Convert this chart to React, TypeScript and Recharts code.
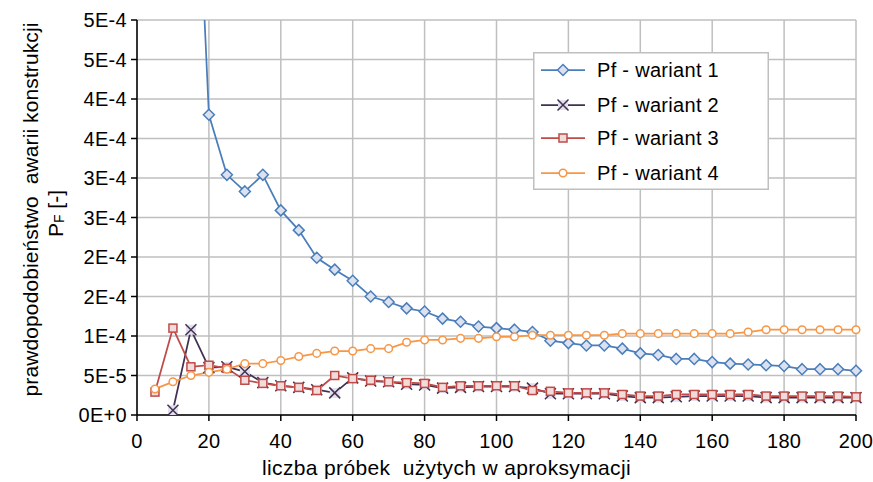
import React from 'react';
import { LineChart, Line, XAxis, YAxis, CartesianGrid } from 'recharts';

const xValues = [5, 10, 15, 20, 25, 30, 35, 40, 45, 50, 55, 60, 65, 70, 75, 80, 85, 90, 95, 100,
  105, 110, 115, 120, 125, 130, 135, 140, 145, 150, 155, 160, 165, 170, 175, 180, 185, 190, 195, 200];

const wariant1 = [null, null, 8.8e-4, 3.8e-4, 3.04e-4, 2.83e-4, 3.04e-4, 2.59e-4, 2.34e-4, 1.99e-4,
  1.84e-4, 1.70e-4, 1.50e-4, 1.43e-4, 1.35e-4, 1.31e-4, 1.22e-4, 1.18e-4, 1.12e-4, 1.10e-4,
  1.08e-4, 1.05e-4, 0.94e-4, 0.91e-4, 0.88e-4, 0.88e-4, 0.84e-4, 0.78e-4, 0.76e-4, 0.71e-4,
  0.71e-4, 0.67e-4, 0.65e-4, 0.64e-4, 0.63e-4, 0.62e-4, 0.58e-4, 0.58e-4, 0.58e-4, 0.56e-4];

const wariant2 = [null, 0.06e-4, 1.08e-4, 0.60e-4, 0.61e-4, 0.55e-4, 0.41e-4, 0.37e-4, 0.35e-4, 0.32e-4,
  0.28e-4, 0.47e-4, 0.43e-4, 0.42e-4, 0.39e-4, 0.38e-4, 0.34e-4, 0.35e-4, 0.36e-4, 0.36e-4,
  0.36e-4, 0.34e-4, 0.27e-4, 0.27e-4, 0.27e-4, 0.27e-4, 0.24e-4, 0.22e-4, 0.22e-4, 0.23e-4,
  0.24e-4, 0.24e-4, 0.24e-4, 0.24e-4, 0.22e-4, 0.22e-4, 0.22e-4, 0.22e-4, 0.22e-4, 0.22e-4];

const wariant3 = [0.29e-4, 1.10e-4, 0.61e-4, 0.63e-4, 0.59e-4, 0.44e-4, 0.40e-4, 0.37e-4, 0.35e-4, 0.31e-4,
  0.50e-4, 0.46e-4, 0.44e-4, 0.42e-4, 0.41e-4, 0.40e-4, 0.35e-4, 0.37e-4, 0.37e-4, 0.37e-4,
  0.37e-4, 0.31e-4, 0.30e-4, 0.28e-4, 0.28e-4, 0.28e-4, 0.26e-4, 0.24e-4, 0.24e-4, 0.26e-4,
  0.26e-4, 0.26e-4, 0.26e-4, 0.26e-4, 0.24e-4, 0.24e-4, 0.24e-4, 0.24e-4, 0.24e-4, 0.23e-4];

const wariant4 = [0.33e-4, 0.42e-4, 0.50e-4, 0.54e-4, 0.58e-4, 0.65e-4, 0.65e-4, 0.69e-4, 0.74e-4, 0.78e-4,
  0.81e-4, 0.81e-4, 0.84e-4, 0.84e-4, 0.92e-4, 0.95e-4, 0.95e-4, 0.97e-4, 0.97e-4, 0.99e-4,
  0.99e-4, 1.01e-4, 1.01e-4, 1.01e-4, 1.01e-4, 1.01e-4, 1.03e-4, 1.03e-4, 1.03e-4, 1.03e-4,
  1.03e-4, 1.03e-4, 1.03e-4, 1.05e-4, 1.08e-4, 1.08e-4, 1.08e-4, 1.08e-4, 1.08e-4, 1.08e-4];

const xTicks = [0, 20, 40, 60, 80, 100, 120, 140, 160, 180, 200];
const yTicks = [0, 0.5e-4, 1e-4, 1.5e-4, 2e-4, 2.5e-4, 3e-4, 3.5e-4, 4e-4, 4.5e-4, 5e-4];
const yTickLabels = ['0E+0', '5E-5', '1E-4', '2E-4', '2E-4', '3E-4', '3E-4', '4E-4', '4E-4', '5E-4', '5E-4'];

const seriesNames = ['Pf - wariant 1', 'Pf - wariant 2', 'Pf - wariant 3', 'Pf - wariant 4'];
const xTitle = 'liczba próbek  użytych w aproksymacji';
const yTitle1 = 'prawdopodobieństwo  awarii konstrukcji';

const data = xValues.map((x, i) => ({
  x,
  s1: wariant1[i],
  s2: wariant2[i],
  s3: wariant3[i],
  s4: wariant4[i],
}));

const FONT = '"Liberation Sans", Arial, sans-serif';
const C1 = '#4A7EBB';
const C2 = '#403152';
const C3 = '#BE4B48';
const C4 = '#F79646';

const bad = (v: any) => v == null || Number.isNaN(v);

const DiamondMark = ({ cx, cy }: any) => (
  <path d={`M${cx},${cy - 5.5}L${cx + 5.5},${cy}L${cx},${cy + 5.5}L${cx - 5.5},${cy}Z`}
    fill="#DCE1F0" stroke={C1} strokeWidth={1.5} />
);
const CrossMark = ({ cx, cy }: any) => (
  <g>
    <rect x={cx - 5} y={cy - 5} width={10} height={10} fill="#E4DFEC" />
    <path d={`M${cx - 5.5},${cy - 5.5}L${cx + 5.5},${cy + 5.5}M${cx - 5.5},${cy + 5.5}L${cx + 5.5},${cy - 5.5}`}
      stroke={C2} strokeWidth={1.5} fill="none" />
  </g>
);
const SquareMark = ({ cx, cy }: any) => (
  <rect x={cx - 4} y={cy - 4} width={8} height={8} fill="#F2DCDB" stroke={C3} strokeWidth={1.5} />
);
const CircleMark = ({ cx, cy }: any) => (
  <circle cx={cx} cy={cy} r={3.8} fill="#FFFFFF" stroke={C4} strokeWidth={1.5} />
);

const makeDot = (Mark: any, prefix: string) => (p: any) => {
  const k = `${prefix}-${p.index}`;
  if (bad(p.cx) || bad(p.cy) || bad(p.value)) return <g key={k} />;
  return <g key={k}><Mark cx={p.cx} cy={p.cy} /></g>;
};

const marks = [DiamondMark, CrossMark, SquareMark, CircleMark];
const colors = [C1, C2, C3, C4];

const YTitle = (props: any) => {
  const vb = props.viewBox || { x: 0, y: 12, width: 129, height: 395 };
  const cy = vb.y + vb.height / 2 - 8;
  const x1 = 22;
  const x2 = 47;
  return (
    <g>
      <text x={x1} y={cy} transform={`rotate(-90, ${x1}, ${cy})`} textAnchor="middle"
        dominantBaseline="central" fontSize={21} letterSpacing={0.1} fontFamily={FONT} fill="#000"
        style={{ whiteSpace: 'pre' }}>{yTitle1}</text>
      <text x={x2} y={cy + 4} transform={`rotate(-90, ${x2}, ${cy + 4})`} textAnchor="middle"
        dominantBaseline="central" fontSize={21} fontFamily={FONT} fill="#000">
        P<tspan fontSize={14} dy={4}>F</tspan><tspan dy={-4}> [-]</tspan>
      </text>
    </g>
  );
};

const XTitle = (props: any) => {
  const vb = props.viewBox || { x: 129, y: 407, width: 719, height: 67 };
  const cx = vb.x + vb.width / 2 - 50;
  return (
    <text x={cx} y={vb.y + 52} textAnchor="middle" dominantBaseline="central"
      fontSize={21} letterSpacing={0.35} fontFamily={FONT} fill="#000"
      style={{ whiteSpace: 'pre' }}>{xTitle}</text>
  );
};

const LegendBox = () => {
  const w = 236;
  const h = 138;
  const rows = [18, 53, 86, 121];
  return (
    <svg width={w} height={h} style={{ position: 'absolute', left: 533, top: 52 }}>
      <rect x={0.75} y={0.75} width={w - 1.5} height={h - 1.5} fill="#fff" stroke="#BFBFBF" strokeWidth={1.5} />
      {seriesNames.map((name, i) => {
        const Mark = marks[i];
        const y = rows[i];
        return (
          <g key={name}>
            <line x1={8} x2={52} y1={y} y2={y} stroke={colors[i]} strokeWidth={1.75} />
            <Mark cx={30} cy={y} />
            <text x={64} y={y} dominantBaseline="central" fontSize={20} letterSpacing={0.3}
              fontFamily={FONT} fill="#000">{name}</text>
          </g>
        );
      })}
    </svg>
  );
};

export default function App() {
  const keys = ['s1', 's2', 's3', 's4'];
  return (
    <div style={{ position: 'fixed', left: 0, top: 0, width: 873, height: 482, background: '#fff' }}>
      <div style={{ position: 'absolute', left: 8, top: 8 }}>
        <LineChart width={865} height={474} data={data} margin={{ top: 12, right: 17, left: 0, bottom: 0 }}>
          <CartesianGrid stroke="#BFBFBF" strokeWidth={1.5} />
          <XAxis dataKey="x" type="number" domain={[0, 200]} ticks={xTicks} interval={0}
            height={67} tickSize={6} tickMargin={13}
            axisLine={{ stroke: '#000', strokeWidth: 1.5 }} tickLine={{ stroke: '#000', strokeWidth: 1.5 }}
            tick={{ fill: '#000', fontSize: 20, fontFamily: FONT, letterSpacing: 0.3 }}
            label={<XTitle />} />
          <YAxis type="number" domain={[0, 5e-4]} ticks={yTicks} interval={0} allowDataOverflow
            width={129} tickSize={6} tickMargin={4}
            tickFormatter={(v: number, i: number) => yTickLabels[i]}
            axisLine={{ stroke: '#000', strokeWidth: 1.5 }} tickLine={{ stroke: '#000', strokeWidth: 1.5 }}
            tick={{ fill: '#000', fontSize: 20, fontFamily: FONT, letterSpacing: 0.3 }}
            label={<YTitle />} />
          {keys.map((k, i) => (
            <Line key={k} dataKey={k} type="linear" stroke={colors[i]} strokeWidth={1.75}
              dot={makeDot(marks[i], k)} activeDot={false} isAnimationActive={false} />
          ))}
        </LineChart>
      </div>
      <LegendBox />
    </div>
  );
}
